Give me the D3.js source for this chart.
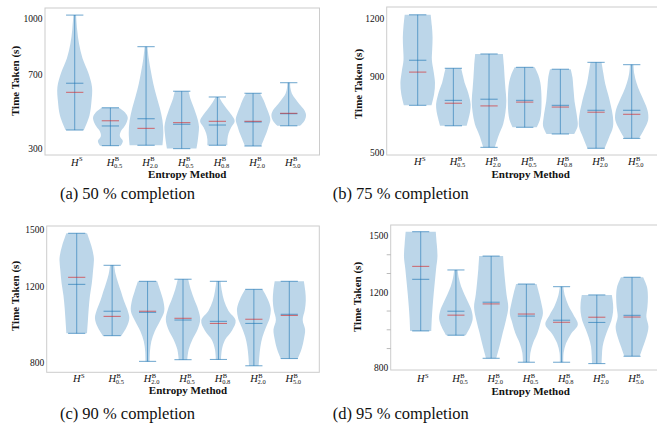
<!DOCTYPE html>
<html>
<head>
<meta charset="utf-8">
<script src="https://cdn.jsdelivr.net/npm/d3@7"></script>
<style>
body{margin:0;background:#fff;}
svg{display:block;}
</style>
</head>
<body>
<div id="plot"></div>
<script>
// method labels (H^sup_sub)
var methodSup = ["S","B","B","B","B","B","B"];
var methodSub = ["","0.5","2.0","0.5","0.8","2.0","5.0"];

// 50 % completion
var min50 = [402,318,320,302,320,316,425];
var max50 = [1021,522,851,611,580,600,657];
var mean50 = [654,424,463,433,429,445,490];
var median50 = [605,452,411,442,449,449,492];
var yticks50 = [300,700,1000];
// relative violin width, bottom (min) -> top (max)
var shape50 = [
	[0.53,0.85,0.97,1.0,0.78,0.45,0.25,0.14,0.08],
	[0.6,0.72,0.55,0.6,0.8,0.95,1.0,0.85,0.5],
	[0.95,1.0,0.95,0.8,0.6,0.42,0.28,0.16,0.08],
	[0.85,0.92,0.97,1.0,0.93,0.8,0.65,0.5,0.4],
	[0.58,0.58,0.65,0.8,1.0,0.82,0.55,0.3,0.1],
	[0.47,0.62,0.78,0.9,1.0,0.9,0.75,0.6,0.4],
	[0.65,0.92,1.0,0.88,0.62,0.38,0.18,0.1,0.08]
];

// 75 % completion
var min75 = [748,641,528,633,598,523,575];
var max75 = [1222,942,1017,947,937,973,961];
var mean75 = [984,774,780,774,748,722,722];
var median75 = [922,759,745,765,739,712,701];
var yticks75 = [500,900,1200];
var shape75 = [
	[0.8,0.95,1.0,0.92,0.82,0.84,0.86,0.82,0.75],
	[0.77,0.88,0.97,1.0,0.92,0.8,0.65,0.55,0.45],
	[0.33,0.55,0.82,0.95,1.0,0.95,0.9,0.86,0.8],
	[0.7,0.88,0.95,0.97,0.97,0.95,0.9,0.78,0.58],
	[0.8,1.0,0.97,0.9,0.82,0.78,0.74,0.7,0.6],
	[0.5,0.75,0.98,0.97,0.85,0.7,0.53,0.42,0.32],
	[0.42,0.72,0.95,0.92,0.72,0.48,0.28,0.15,0.1]
];

// 90 % completion
var min90 = [954,942,807,816,817,784,822];
var max90 = [1479,1311,1227,1238,1227,1185,1227];
var mean90 = [1211,1070,1064,1024,1017,1006,1054];
var median90 = [1248,1043,1070,1033,1006,1028,1048];
var yticks90 = [800,1200,1500];
var shape90 = [
	[0.6,0.65,0.7,0.77,0.88,0.95,1.0,0.85,0.6],
	[0.55,0.85,1.0,0.88,0.68,0.52,0.35,0.2,0.12],
	[0.12,0.14,0.22,0.42,0.72,0.97,0.92,0.75,0.56],
	[0.25,0.33,0.55,0.85,1.0,0.88,0.65,0.45,0.3],
	[0.15,0.2,0.38,0.8,1.0,0.58,0.33,0.2,0.12],
	[0.28,0.32,0.38,0.5,0.7,0.92,0.98,0.8,0.5],
	[0.5,0.72,0.85,0.92,0.78,0.9,0.96,0.93,0.85]
];

// 95 % completion
var min95 = [994,971,848,827,827,820,859];
var max95 = [1523,1319,1393,1244,1230,1186,1280];
var mean95 = [1269,1099,1147,1073,1051,1039,1077];
var median95 = [1338,1078,1138,1084,1040,1067,1068];
var yticks95 = [800,1200,1500];
var yminor95 = [900,1000,1100,1300,1400];
var shape95 = [
	[0.62,0.65,0.7,0.76,0.83,0.9,0.98,0.94,0.88],
	[0.58,0.83,0.98,0.92,0.72,0.5,0.3,0.17,0.1],
	[0.3,0.5,0.68,0.87,1.0,0.9,0.82,0.75,0.7],
	[0.2,0.24,0.4,0.65,0.82,0.97,0.88,0.75,0.6],
	[0.1,0.12,0.26,0.55,0.95,0.7,0.4,0.2,0.1],
	[0.28,0.3,0.34,0.47,0.65,0.85,0.95,0.95,0.88],
	[0.45,0.65,0.85,0.96,0.84,0.9,0.93,0.88,0.65]
];

var captions = ["(a) 50 % completion","(b) 75 % completion","(c) 90 % completion","(d) 95 % completion"];

var serif = "'Liberation Serif', 'DejaVu Serif', 'Times New Roman', serif";
var width = 657, height = 443;
var svg = d3.select('#plot').append('svg')
	.attr('width',width)
	.attr('height',height)
	.attr('font-family',serif);

var fillC = 'rgb(188,214,233)';
var lineC = '#1f77b4';
var redC = '#d62728';
var violinW = 0.97;

function label(sel){
	return sel.attr('font-family',serif).attr('fill','#111');
}

function drawPanel(box, mins, maxs, means, medians, shapes, yticks, yminor, caption){
	var x = d3.scaleLinear().domain(box.xlim).range([box.x0, box.x1]);
	var y = d3.scaleLinear().domain(box.ylim).range([box.y1, box.y0]);
	var g = svg.append('g');
	var unit = x(1) - x(0);

	// frame
	g.append('rect')
		.attr('x',box.x0).attr('y',box.y0)
		.attr('width',box.x1-box.x0).attr('height',box.y1-box.y0)
		.attr('fill','none').attr('stroke','#cccccc').attr('stroke-width',1);

	// bodies
	var area = d3.area()
		.y(function(d){return y(d.v);})
		.x0(function(d){return d.c - d.w*violinW*unit/2;})
		.x1(function(d){return d.c + d.w*violinW*unit/2;})
		.curve(d3.curveCatmullRom);

	shapes.forEach(function(s,i){
		var c = x(i+1);
		var pts = s.map(function(w,k){
			return {v: mins[i] + (maxs[i]-mins[i])*k/(s.length-1), w: w, c: c};
		});
		g.append('path').attr('d',area(pts)).attr('fill',fillC);
	});

	// lines
	shapes.forEach(function(s,i){
		var c = x(i+1), hw = violinW*unit/4;
		g.append('line').attr('x1',c).attr('x2',c).attr('y1',y(mins[i])).attr('y2',y(maxs[i]))
			.attr('stroke',lineC).attr('stroke-opacity',0.6).attr('stroke-width',1);
		[mins[i],maxs[i],means[i]].forEach(function(v){
			g.append('line').attr('x1',c-hw).attr('x2',c+hw).attr('y1',y(v)).attr('y2',y(v))
				.attr('stroke',lineC).attr('stroke-opacity',0.6).attr('stroke-width',1.1);
		});
		g.append('line').attr('x1',c-hw).attr('x2',c+hw).attr('y1',y(medians[i])).attr('y2',y(medians[i]))
			.attr('stroke',redC).attr('stroke-opacity',0.6).attr('stroke-width',1.1);
	});

	// y ticks
	yticks.forEach(function(t){
		label(g.append('text')).attr('x',box.x0-2.5).attr('y',y(t)).attr('dy','0.35em')
			.attr('text-anchor','end').attr('font-size',9.5).text(t);
	});
	yminor.forEach(function(t){
		g.append('line').attr('x1',box.x0-4).attr('x2',box.x0).attr('y1',y(t)).attr('y2',y(t))
			.attr('stroke','#aaaaaa').attr('stroke-width',0.8);
	});

	// x tick labels
	methodSup.forEach(function(sup,i){
		var left = x(i+1) - 3.7, base = box.y1 + box.tickOff;
		label(g.append('text')).attr('x',left).attr('y',base)
			.attr('font-size',10.5).attr('font-style','italic').text('H');
		label(g.append('text')).attr('x',left+8).attr('y',base-4.3)
			.attr('font-size',6.5).text(sup);
		if(methodSub[i]){
			label(g.append('text')).attr('x',left+7.4).attr('y',base+2)
				.attr('font-size',6.5).text(methodSub[i]);
		}
	});

	// axis labels
	label(g.append('text')).attr('x',(box.x0+box.x1)/2+5).attr('y',box.y1+box.labOff)
		.attr('text-anchor','middle').attr('font-size',11).attr('font-weight','bold')
		.text('Entropy Method');
	label(g.append('text'))
		.attr('transform','translate('+box.ylabX+','+box.ylabY+') rotate(-90)')
		.attr('text-anchor','middle').attr('dy','0.35em')
		.attr('font-size',11).attr('font-weight','bold')
		.text('Time Taken (s)');

	// caption
	label(svg.append('text')).attr('x',box.capX).attr('y',box.capY)
		.attr('text-anchor','middle').attr('font-size',16.5).text(caption);
}

drawPanel({x0:45,x1:319.5,y0:8,y1:155,xlim:[0.167,7.863],ylim:[267.6,1059.2],tickOff:10.7,labOff:22.5,ylabX:15,ylabY:81,capX:127.5,capY:198.5},
	min50,max50,mean50,median50,shape50,yticks50,[],captions[0]);
drawPanel({x0:386.7,x1:664.7,y0:7,y1:155,xlim:[0.131,7.925],ylim:[488.0,1262.8],tickOff:10.3,labOff:22.5,ylabX:358,ylabY:84,capX:400.7,capY:198.5},
	min75,max75,mean75,median75,shape75,yticks75,[],captions[1]);
drawPanel({x0:46.7,x1:319.3,y0:226,y1:372.3,xlim:[0.153,7.847],ylim:[749.7,1517.3],tickOff:9.6,labOff:22,ylabX:15,ylabY:296,capX:127.5,capY:418.5},
	min90,max90,mean90,median90,shape90,yticks90,[],captions[2]);
drawPanel({x0:390.7,x1:660.7,y0:225,y1:370,xlim:[0.148,7.814],ylim:[785.7,1558.6],tickOff:12,labOff:24.5,ylabX:357.5,ylabY:297,capX:400.7,capY:418.5},
	min95,max95,mean95,median95,shape95,yticks95,yminor95,captions[3]);
</script>
</body>
</html>
